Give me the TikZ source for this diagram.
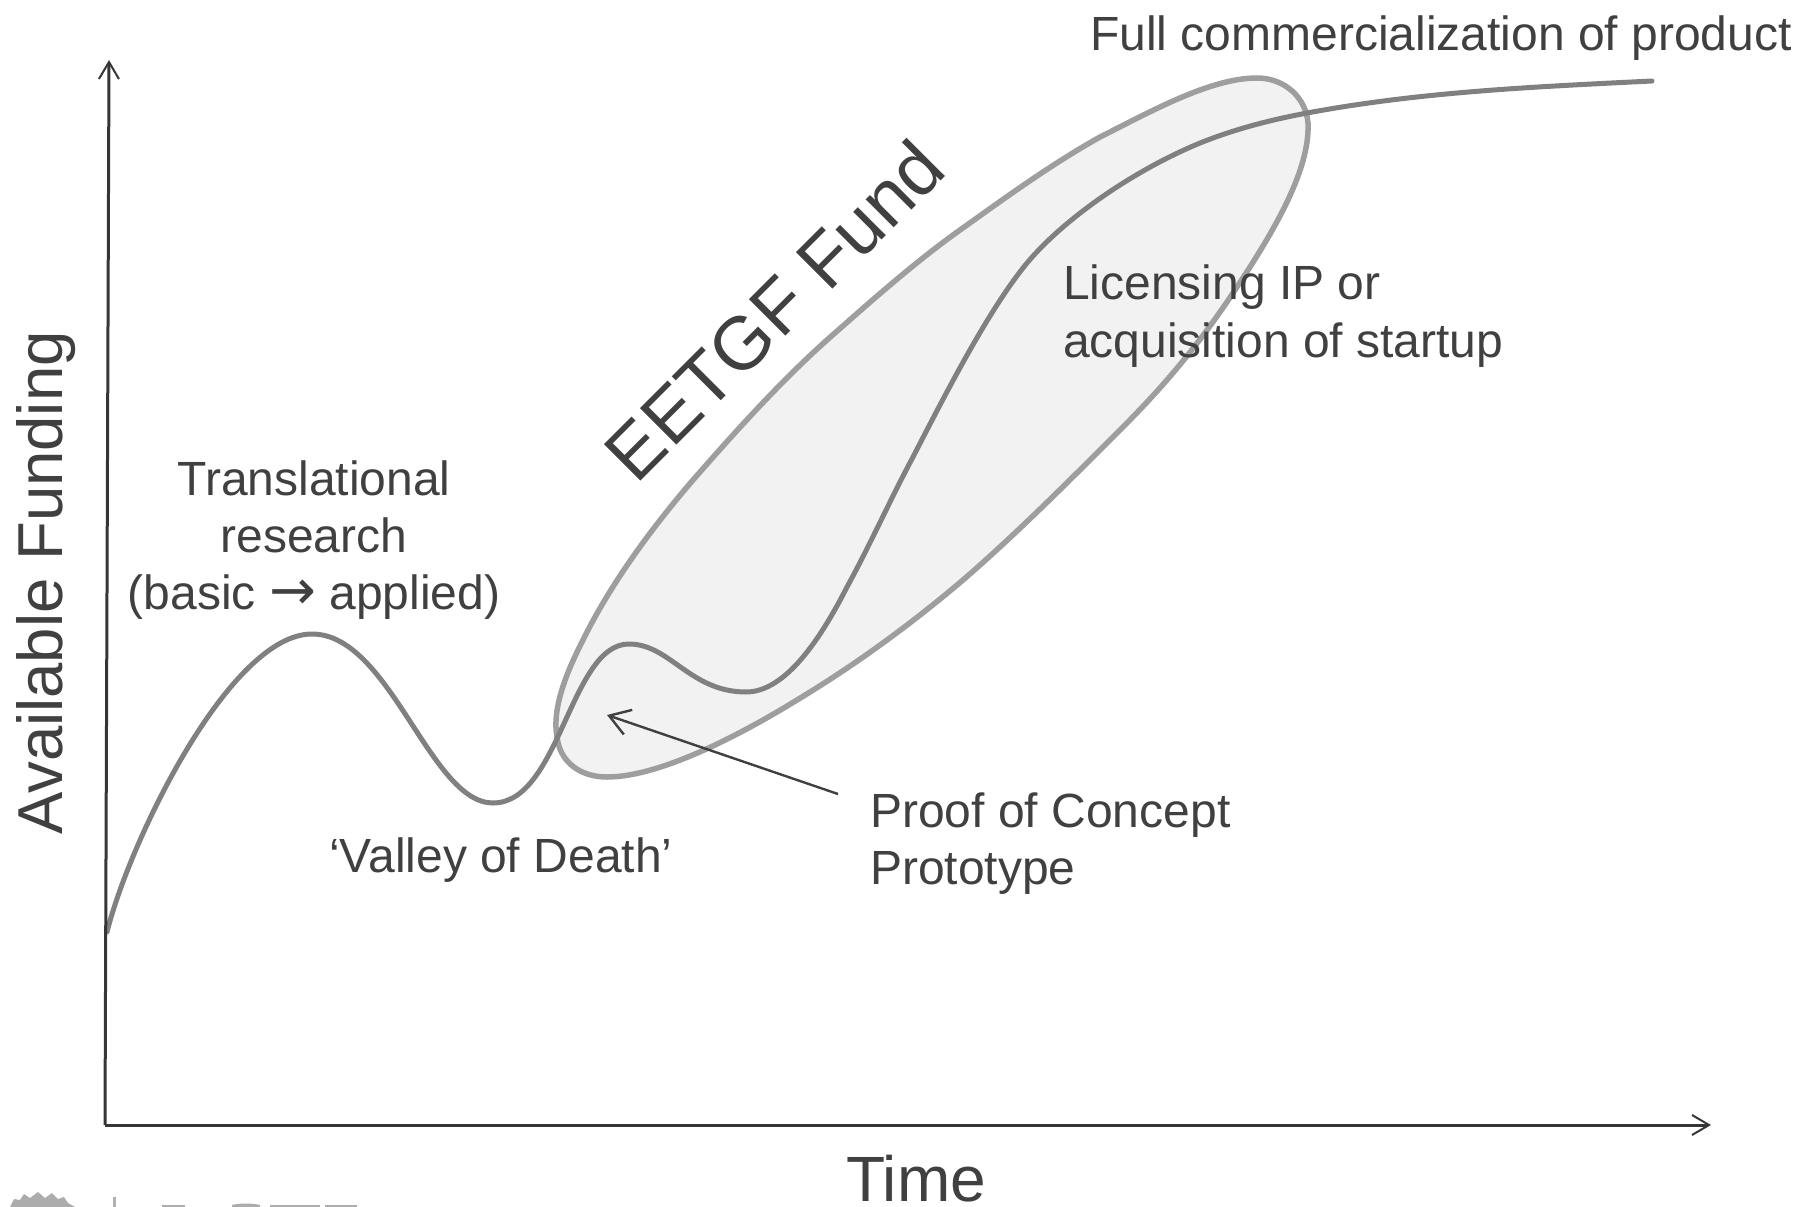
\documentclass[tikz,border=0pt]{standalone}
\usepackage{fontspec}
\setmainfont{Liberation Sans}
\usetikzlibrary{arrows.meta}
\definecolor{ink}{gray}{0.25}
\definecolor{curvec}{gray}{0.5}
\definecolor{ellc}{gray}{0.62}
\definecolor{ellf}{gray}{0.95}
\tikzset{
 lab/.style={text=ink,font=\fontsize{48}{57}\selectfont,align=left,inner sep=0,anchor=base west},
 labc/.style={text=ink,font=\fontsize{48}{57}\selectfont,align=center,inner sep=0},
 axisline/.style={draw=ink!85!black,line width=3pt,-{Straight Barb[length=17pt,width=20pt,line width=2pt]}},
 thinarrow/.style={draw=ink,line width=2.4pt,-{Straight Barb[length=20pt,width=26pt,line width=2.4pt]}},
 fundcurve/.style={draw=curvec,line width=5pt,line cap=round},
 blob/.style={draw=ellc,fill=ellf,line width=5.5pt},
 logo/.style={fill=gray!65,draw=none}
}
\begin{document}
\begin{tikzpicture}[x=1pt,y=-1pt]
\useasboundingbox (0,0) rectangle (1799,1207);
% ellipse
\draw[blob] (1257,78)
 .. controls (1285,78) and (1306,98) .. (1308,123)
 .. controls (1310,170) and (1275,230) .. (1233,293)
 .. controls (1195,350) and (1160,390) .. (1120,430)
 .. controls (1065,485) and (1015,535) .. (963,580)
 .. controls (910,625) and (855,665) .. (797,700)
 .. controls (740,735) and (660,777) .. (607,777)
 .. controls (580,777) and (560,762) .. (557,737)
 .. controls (552,710) and (565,675) .. (583,640)
 .. controls (610,585) and (650,530) .. (693,480)
 .. controls (735,432) and (780,382) .. (827,340)
 .. controls (870,302) and (915,262) .. (960,230)
 .. controls (1005,198) and (1050,165) .. (1100,137)
 .. controls (1150,112) and (1210,78) .. (1257,78) -- cycle;
% curve
\draw[fundcurve] (107,932)
 .. controls (130,840) and (230,634) .. (312,634)
 .. controls (390,634) and (430,803) .. (493,803)
 .. controls (560,803) and (570,644) .. (629,644)
 .. controls (670,644) and (690,692) .. (746,692)
 .. controls (785,692) and (820,640) .. (847,587)
 .. controls (870,545) and (890,500) .. (913,457)
 .. controls (950,385) and (990,308) .. (1027,263)
 .. controls (1062,221) and (1130,172) .. (1200,143)
 .. controls (1235,129) and (1270,120) .. (1307,113)
 .. controls (1420,92) and (1530,87) .. (1652,81);
% axes
\coordinate (O) at (105,1125);
\coordinate (ytop) at (109,60);
\coordinate (xend) at (1711,1125);
\coordinate (ptail) at (838,794);
\coordinate (phead) at (607,715);
\draw[axisline] (O) -- (ytop);
\draw[axisline] (O) -- (xend);
\draw[thinarrow] (ptail) -- (phead);
% labels
\node[lab] (full) at (1090,51) {Full commercialization of product};
\node[lab] (lic1) at (1063,299) {Licensing IP or};
\node[lab] (lic2) at (1063,357) {acquisition of startup};
\node[labc] (trans) at (314,540) {Translational\\research\\(basic {\fontspec{DejaVu Sans}\fontsize{56}{57}\selectfont→} applied)};
\node[lab] (valley) at (329,872) {‘Valley of Death’};
\node[lab] (poc1) at (870,827) {Proof of Concept};
\node[lab] (poc2) at (870,884) {Prototype};
\node[text=ink,font=\fontsize{75}{80}\selectfont,rotate=45,inner sep=0] (fund) at (774,310) {EETGF Fund};
\node[text=ink,font=\fontsize{63.5}{70}\selectfont,rotate=90,inner sep=0] (yl) at (46,583) {Available Funding};
\node[text=ink,font=\fontsize{64}{70}\selectfont,inner sep=0] (xl) at (916,1179) {Time};
% cut-off logo
\fill[logo] (10,1207) -- (14,1199) -- (20,1200) -- (24,1194) -- (30,1198) -- (38,1192) -- (45,1198) -- (52,1193) -- (58,1199) -- (64,1197) -- (68,1203) -- (75,1207) -- cycle;
\fill[gray!60] (113,1197) rectangle (116,1207);
\fill[gray!65] (162,1205) rectangle (185,1207);
\fill[gray!65] (232,1205) .. controls (240,1203) and (252,1203) .. (260,1205) -- (260,1207) -- (232,1207) -- cycle;
\fill[gray!65] (270,1205) rectangle (320,1207);
\fill[gray!65] (325,1205) rectangle (357,1207);
\end{tikzpicture}
\end{document}
